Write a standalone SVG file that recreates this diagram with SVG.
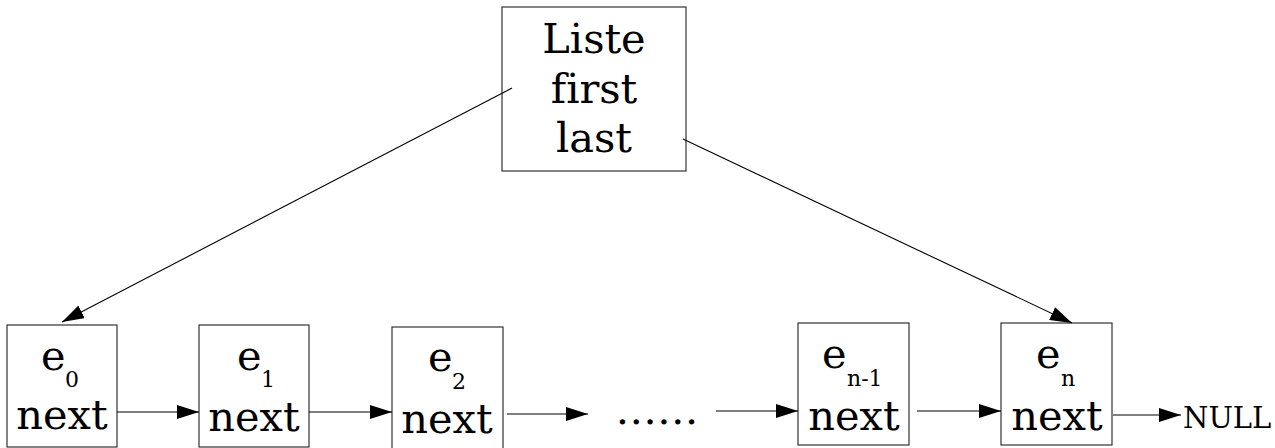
<svg xmlns="http://www.w3.org/2000/svg" width="1275" height="448" viewBox="0 0 1275 448">
<style>
.box{fill:#fff;stroke:#333;stroke-width:1.2}
.t{font-family:"DejaVu Serif",serif;font-size:41.5px;fill:#000;font-variant-ligatures:none}
.s{font-family:"DejaVu Serif",serif;font-size:22px;fill:#000}
.c{stroke:#000;stroke-width:1.1;fill:none;marker-end:url(#ah)}
</style>
<defs>
<marker id="ah" markerWidth="22" markerHeight="14" refX="22" refY="7" orient="auto" markerUnits="userSpaceOnUse">
<path d="M0,0 L22,7 L0,14 Z" fill="#000"/>
</marker>
</defs>
<rect width="1275" height="448" fill="#fff"/>
<g id="liste">
<rect class="box" x="502" y="7" width="184" height="164"/>
<text class="t" x="594" y="53" text-anchor="middle">Liste</text>
<text class="t" x="594" y="103" text-anchor="middle">first</text>
<text class="t" x="594" y="152" text-anchor="middle">last</text>
</g>
<g id="e0">
<rect class="box" x="7" y="325" width="110" height="122"/>
<text class="t" x="41" y="370">e</text>
<text class="s" x="65" y="387">0</text>
<text class="t" x="62" y="429" text-anchor="middle">next</text>
</g>
<g id="e1">
<rect class="box" x="199" y="325" width="110" height="122"/>
<text class="t" x="237" y="370">e</text>
<text class="s" x="261" y="387">1</text>
<text class="t" x="254" y="431" text-anchor="middle">next</text>
</g>
<g id="e2">
<rect class="box" x="392" y="327" width="111" height="125"/>
<text class="t" x="428" y="371">e</text>
<text class="s" x="452" y="389">2</text>
<text class="t" x="447" y="433" text-anchor="middle">next</text>
</g>
<g id="dots">
<text class="t" x="657" y="424" text-anchor="middle">……</text>
</g>
<g id="en-1">
<rect class="box" x="798" y="323" width="111" height="122"/>
<text class="t" x="822" y="368">e</text>
<text class="s" x="847" y="386">n-1</text>
<text class="t" x="854" y="430" text-anchor="middle">next</text>
</g>
<g id="en">
<rect class="box" x="1001" y="323" width="111" height="122"/>
<text class="t" x="1036" y="368">e</text>
<text class="s" x="1061" y="386">n</text>
<text class="t" x="1057" y="430" text-anchor="middle">next</text>
</g>
<g id="null">
<text class="t" x="1183" y="428" style="font-size:29px">NULL</text>
</g>
<g id="connectors">
<line class="c" x1="512" y1="88" x2="62" y2="322"/>
<line class="c" x1="683" y1="139" x2="1072" y2="323"/>
<line class="c" x1="117" y1="412" x2="199" y2="412"/>
<line class="c" x1="309" y1="412" x2="392" y2="412"/>
<line class="c" x1="507" y1="414" x2="588" y2="414"/>
<line class="c" x1="716" y1="411" x2="798" y2="411"/>
<line class="c" x1="917" y1="411" x2="1001" y2="411"/>
<line class="c" x1="1113" y1="415" x2="1181" y2="415"/>
</g>
</svg>
